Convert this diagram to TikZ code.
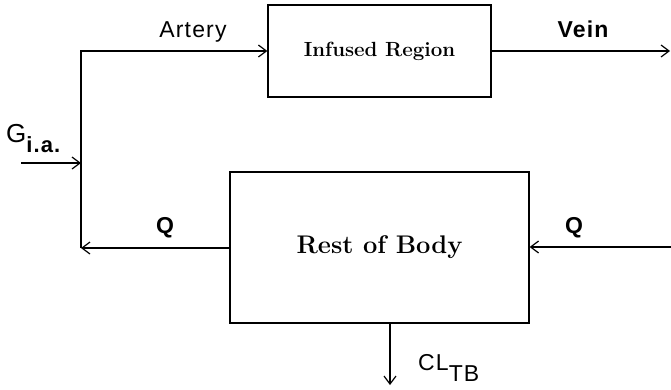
\documentclass[tikz,border=0pt]{standalone}
\usepackage{fontspec}
\setsansfont{Liberation Sans}
\newfontfamily\labelfont[LetterSpace=5]{Liberation Sans}
\usetikzlibrary{arrows.meta}
\begin{document}
\begin{tikzpicture}[x=1pt,y=-1pt,
  box/.style={draw,line width=1.2pt,minimum width=#1,inner sep=0pt},
  flow/.style={line width=1.2pt,-{Straight Barb[length=8pt,width=12pt,line width=1.2pt]}},
  lbl/.style={font=\labelfont\fontsize{23}{26}\selectfont,anchor=base,inner sep=0pt},
  blbl/.style={lbl,font=\labelfont\bfseries\fontsize{23}{26}\selectfont}]
\useasboundingbox (0,0) rectangle (671,389);
\node[box=223pt,minimum height=92pt,font=\bfseries\fontsize{20.5}{24}\selectfont] (inf) at (379.5,51) {Infused Region};
\node[box=299pt,minimum height=151pt,font=\bfseries\fontsize{25.5}{30}\selectfont] (rest) at (379.5,247.5) {Rest of Body};
\coordinate (ql) at (81,248);
\coordinate (gs) at (21,163);
\coordinate (gj) at (81,163);
\coordinate (vend) at (670,51);
\coordinate (qr) at (671,247);
\coordinate (clt) at (390,323);
\coordinate (clb) at (390,385);
\draw[flow] (rest.west |- ql) -- (ql);
\draw[flow] (ql) |- (inf.west);
\draw[flow] (gs) -- (gj);
\draw[flow] (inf.east) -- (vend);
\draw[flow] (qr) -- (rest.east |- qr);
\draw[flow] (clt) -- (clb);
\node[lbl] (art) at (193,37) {Artery};
\node[blbl] (vein) at (583,37) {Vein};
\node[blbl] (q1) at (165,233) {Q};
\node[blbl] (q2) at (574,233) {Q};
\node[lbl,anchor=base west,font=\labelfont\fontsize{26}{28}\selectfont] (gia) at (6,142) {G\raisebox{-10pt}{\bfseries\fontsize{22}{24}\selectfont i.a.}};
\node[lbl,anchor=base west] (cl) at (418,370) {CL\raisebox{-11pt}{TB}};
\end{tikzpicture}
\end{document}
